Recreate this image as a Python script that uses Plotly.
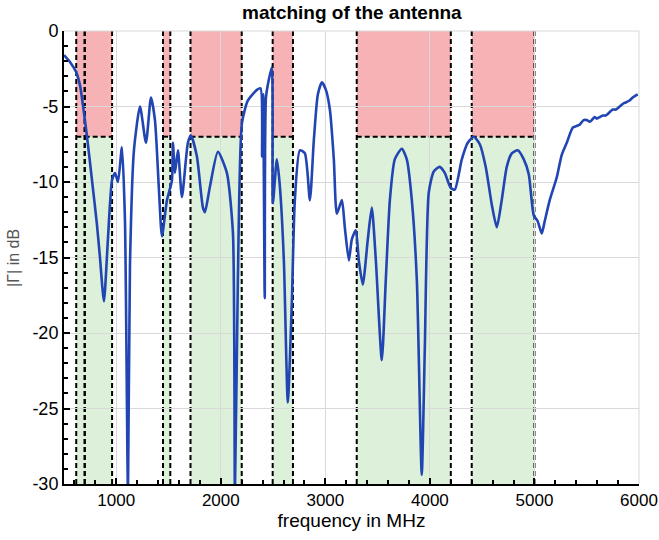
import plotly.graph_objects as go

# measured curve (frequency in MHz, |Gamma| in dB)
freq = [500, 557, 615, 653, 720, 768, 815, 844, 882, 920, 959, 988, 1016, 1054, 1083, 1112, 1131,
        1169, 1227, 1284, 1332, 1370, 1408, 1437, 1485, 1532, 1542, 1561, 1590, 1628, 1685, 1714,
        1771, 1829, 1848, 1896, 1972, 2058, 2116, 2135, 2163, 2202, 2259, 2345, 2380, 2395, 2405,
        2420, 2432, 2460, 2488, 2498, 2536, 2565, 2603, 2641, 2680, 2708, 2756, 2804, 2852, 2890,
        2928, 2967, 3005, 3043, 3081, 3110, 3158, 3186, 3225, 3253, 3291, 3320, 3358, 3406, 3444,
        3483, 3540, 3578, 3617, 3664, 3731, 3779, 3827, 3875, 3922, 3951, 3989, 4037, 4094, 4142,
        4200, 4238, 4305, 4362, 4420, 4477, 4534, 4592, 4640, 4687, 4735, 4783, 4840, 4898, 4946,
        4993, 5031, 5070, 5098, 5146, 5213, 5261, 5309, 5366, 5400, 5433, 5470, 5500, 5530, 5548,
        5575, 5596, 5625, 5653, 5680, 5701, 5730, 5749, 5780, 5815, 5850, 5882, 5910, 5940, 5988]
gamma_db = [-1.6, -2.05, -2.7, -3.6, -7.0, -9.9, -12.8, -15.0, -17.9, -13.8, -9.9, -9.4, -10.0, -7.7,
            -12.5, -30.6, -15.5, -7.9, -5.0, -7.4, -4.4, -5.9, -10.5, -13.6, -11.2, -9.9, -7.4, -9.4,
            -7.9, -11.0, -7.4, -6.9, -8.3, -11.7, -12.0, -10.3, -8.0, -9.4, -13.4, -30.6, -16.5, -6.1,
            -4.6, -3.9, -3.8, -8.3, -4.2, -17.7, -4.4, -3.2, -2.4, -11.4, -8.5, -10.3, -15.2, -24.6,
            -17.8, -11.2, -7.9, -8.1, -11.2, -7.2, -4.2, -3.4, -3.9, -5.2, -8.5, -12.1, -11.2, -13.0,
            -15.2, -13.8, -13.2, -15.2, -16.8, -13.8, -11.7, -15.2, -21.8, -16.5, -11.2, -8.5, -7.8,
            -8.5, -11.2, -16.5, -29.4, -21.1, -10.7, -9.3, -9.0, -9.4, -10.4, -10.5, -8.5, -7.4, -7.0,
            -7.5, -9.0, -11.5, -13.0, -11.2, -9.0, -8.1, -7.9, -8.5, -9.5, -12.2, -12.6, -13.4, -12.6,
            -11.2, -9.7, -8.2, -7.4, -6.4, -6.3, -6.2, -5.9, -5.9, -6.0, -5.9, -5.7, -5.8, -5.7, -5.6,
            -5.6, -5.5, -5.3, -5.2, -5.2, -5.0, -4.8, -4.7, -4.6, -4.4, -4.2]

# frequency bands (MHz)
band_lo = [617, 698, 1447, 1710, 2496, 3300, 4400]
band_hi = [698, 960, 1517, 2200, 2690, 4200, 5000]
limit_db = -7

x_ticks = [1000, 2000, 3000, 4000, 5000, 6000]
y_ticks = [0, -5, -10, -15, -20, -25, -30]

fig = go.Figure()

shapes = []
for lo, hi in zip(band_lo, band_hi):
    shapes.append(dict(type="rect", xref="x", yref="y", x0=lo, x1=hi, y0=limit_db, y1=0,
                       fillcolor="rgba(240,130,135,0.62)", line=dict(width=0), layer="below"))
    shapes.append(dict(type="rect", xref="x", yref="y", x0=lo, x1=hi, y0=-30, y1=limit_db,
                       fillcolor="rgba(200,230,195,0.62)", line=dict(width=0), layer="below"))
for lo, hi in zip(band_lo, band_hi):
    for xv in (lo, hi):
        shapes.append(dict(type="line", xref="x", yref="y", x0=xv, x1=xv, y0=-30, y1=0,
                           line=dict(color="black", width=2, dash="5px,3px"), layer="below"))
    shapes.append(dict(type="line", xref="x", yref="y", x0=lo, x1=hi, y0=limit_db, y1=limit_db,
                       line=dict(color="black", width=2, dash="5px,3px"), layer="below"))
# light box on top/right
shapes.append(dict(type="line", xref="paper", yref="paper", x0=0, x1=1, y0=1, y1=1,
                   line=dict(color="#d8d8d8", width=1)))
shapes.append(dict(type="line", xref="paper", yref="paper", x0=1, x1=1, y0=0, y1=1,
                   line=dict(color="#d8d8d8", width=1)))

fig.add_trace(go.Scatter(x=freq, y=gamma_db, mode="lines",
                         line=dict(color="#2145b2", width=2.6, shape="spline", smoothing=0.6),
                         showlegend=False))

fig.add_annotation(text="|Γ| in dB", xref="paper", yref="paper", x=-0.088, y=0.5,
                   xanchor="center", yanchor="middle", textangle=-90, showarrow=False,
                   font=dict(size=16, color="#555555"))

fig.update_layout(
    width=659, height=540,
    margin=dict(l=64, r=20, t=31, b=56),
    plot_bgcolor="white", paper_bgcolor="white",
    font=dict(family="Liberation Sans, Arial, sans-serif", color="black"),
    title=dict(text="<b>matching of the antenna</b>", x=0.534, xanchor="center",
               y=0.977, yanchor="middle", font=dict(size=19, color="black")),
    shapes=shapes,
    xaxis=dict(range=[500, 6000], tickvals=x_ticks, ticktext=[str(v) for v in x_ticks],
               automargin=False,
               showgrid=True, gridcolor="#d9d9d9", gridwidth=1, zeroline=False,
               showline=True, linecolor="black", linewidth=2,
               ticks="inside", ticklen=6, tickwidth=1.5, tickcolor="black",
               minor=dict(tick0=0, dtick=200, ticks="inside", ticklen=4, tickcolor="black",
                          showgrid=False),
               tickfont=dict(size=17),
               title=dict(text="frequency in MHz", font=dict(size=19), standoff=2)),
    yaxis=dict(range=[-30, 0], tickvals=y_ticks, ticktext=[str(v) for v in y_ticks],
               automargin=False,
               showgrid=True, gridcolor="#d9d9d9", gridwidth=1, zeroline=False,
               showline=True, linecolor="black", linewidth=2,
               ticks="inside", ticklen=6, tickwidth=1.5, tickcolor="black",
               minor=dict(tick0=0, dtick=1, ticks="inside", ticklen=4, tickcolor="black",
                          showgrid=False),
               tickfont=dict(size=18)),
)

fig.write_html("out.html")
